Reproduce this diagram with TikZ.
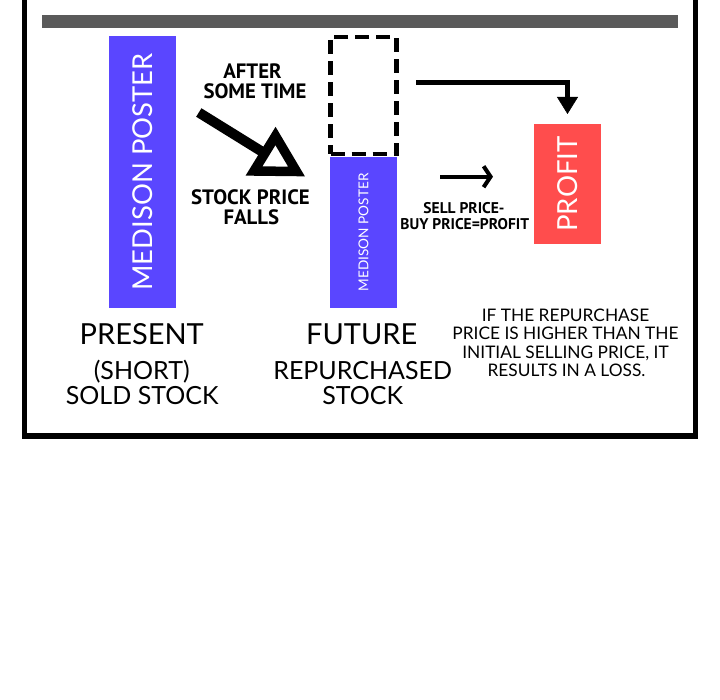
\documentclass[tikz,border=0pt]{standalone}
\usepackage{fontspec}
\setmainfont{Lato}
\newfontfamily\ptsans{PT Sans}
\usetikzlibrary{arrows.meta}
\definecolor{posterblue}{HTML}{5A46FF}
\definecolor{profitred}{HTML}{FF4D4D}
\definecolor{bargray}{HTML}{5A5A5A}
\begin{document}
\begin{tikzpicture}[x=1pt,y=-1pt,
  box/.style={inner sep=0pt, outer sep=0pt, text=white},
  biglabel/.style={anchor=base, inner sep=0pt, font=\fontsize{29}{29}\selectfont},
  sublabel/.style={anchor=base, inner sep=0pt, font=\fontsize{25}{25}\selectfont},
  boldlabel/.style={anchor=base, inner sep=0pt, font=\ptsans\bfseries\fontsize{20.8}{20.8}\selectfont},
  formula/.style={anchor=base, inner sep=0pt, font=\ptsans\bfseries\fontsize{15.5}{15.5}\selectfont},
  note/.style={anchor=base, inner sep=0pt, font=\fontsize{17.3}{17.3}\selectfont},
]
\useasboundingbox (0,0) rectangle (720,700);
\fill[white] (0,0) rectangle (720,700);
% frame and top bar
\draw[line width=5.5pt] (24.3,0) -- (24.3,436) -- (695.7,436) -- (695.7,0);
\fill[bargray] (42.3,15) rectangle (677.7,27.7);

% boxes
\node[box, fill=posterblue, rotate=90, minimum width=272pt, minimum height=67pt,
      font=\fontsize{27.4}{27.4}\selectfont] (poster1) at (142.5,172) {MEDISON POSTER};
\node[box, fill=posterblue, rotate=90, minimum width=151.5pt, minimum height=67pt,
      font=\fontsize{13.6}{13.6}\selectfont] (poster2) at (363.5,232.3) {MEDISON POSTER};
\node[box, fill=profitred, rotate=90, minimum width=120pt, minimum height=67pt,
      font=\fontsize{27.6}{27.6}\selectfont] (profit) at (567.5,184) {PROFIT};
\node[draw, dash pattern=on 14pt off 7pt, line width=4.3pt, minimum width=66pt,
      minimum height=116.7pt, inner sep=0pt] (old) at (363.5,95.35) {};

% falling arrow
\coordinate (sh1) at (198.8,112.5);
\coordinate (sh2) at (265,153.5);
\coordinate (tri1) at (275.5,136);
\coordinate (tri2) at (254,171);
\coordinate (tri3) at (296.5,171.5);
\draw[line width=10pt] (sh1) -- (sh2);
\draw[line width=9.5pt, line join=miter] (tri1) -- (tri2) -- (tri3) -- cycle;

% arrow to profit
\coordinate (pa) at (416,82.5);
\draw[line width=5pt, -{Triangle[width=21pt,length=17pt,line width=0.5pt]}]
  (pa) -| ([yshift=10pt]profit.east);

% small arrow
\coordinate (sa) at (440,176.7);
\coordinate (sb) at (493,176.7);
\draw[line width=4pt, -{Straight Barb[length=7pt,width=21pt]}] (sa) -- (sb);

% texts
\node[boldlabel] (after1) at (252.5,78.3) {AFTER};
\node[boldlabel] (after2) at (255,98.3) {SOME TIME};
\node[boldlabel] (fall1) at (250.5,204.3) {STOCK PRICE};
\node[boldlabel] (fall2) at (251.3,225) {FALLS};
\node[formula] (f1) at (464,213.3) {SELL PRICE-};
\node[formula] (f2) at (464.8,230) {BUY PRICE=PROFIT};

\node[biglabel] (present) at (141.7,344.3) {PRESENT};
\node[sublabel] (short) at (141.7,380) {(SHORT)};
\node[sublabel] (sold) at (142.2,404.3) {SOLD STOCK};
\node[biglabel] (future) at (361.7,344.3) {FUTURE};
\node[sublabel] (rep) at (362.7,380) {REPURCHASED};
\node[sublabel] (stock) at (362.7,404.3) {STOCK};

\node[note] (n1) at (565.5,321.7) {IF THE REPURCHASE};
\node[note] (n2) at (565.5,340) {PRICE IS HIGHER THAN THE};
\node[note] (n3) at (565.5,358.3) {INITIAL SELLING PRICE, IT};
\node[note] (n4) at (566.5,376.7) {RESULTS IN A LOSS.};
\end{tikzpicture}
\end{document}
